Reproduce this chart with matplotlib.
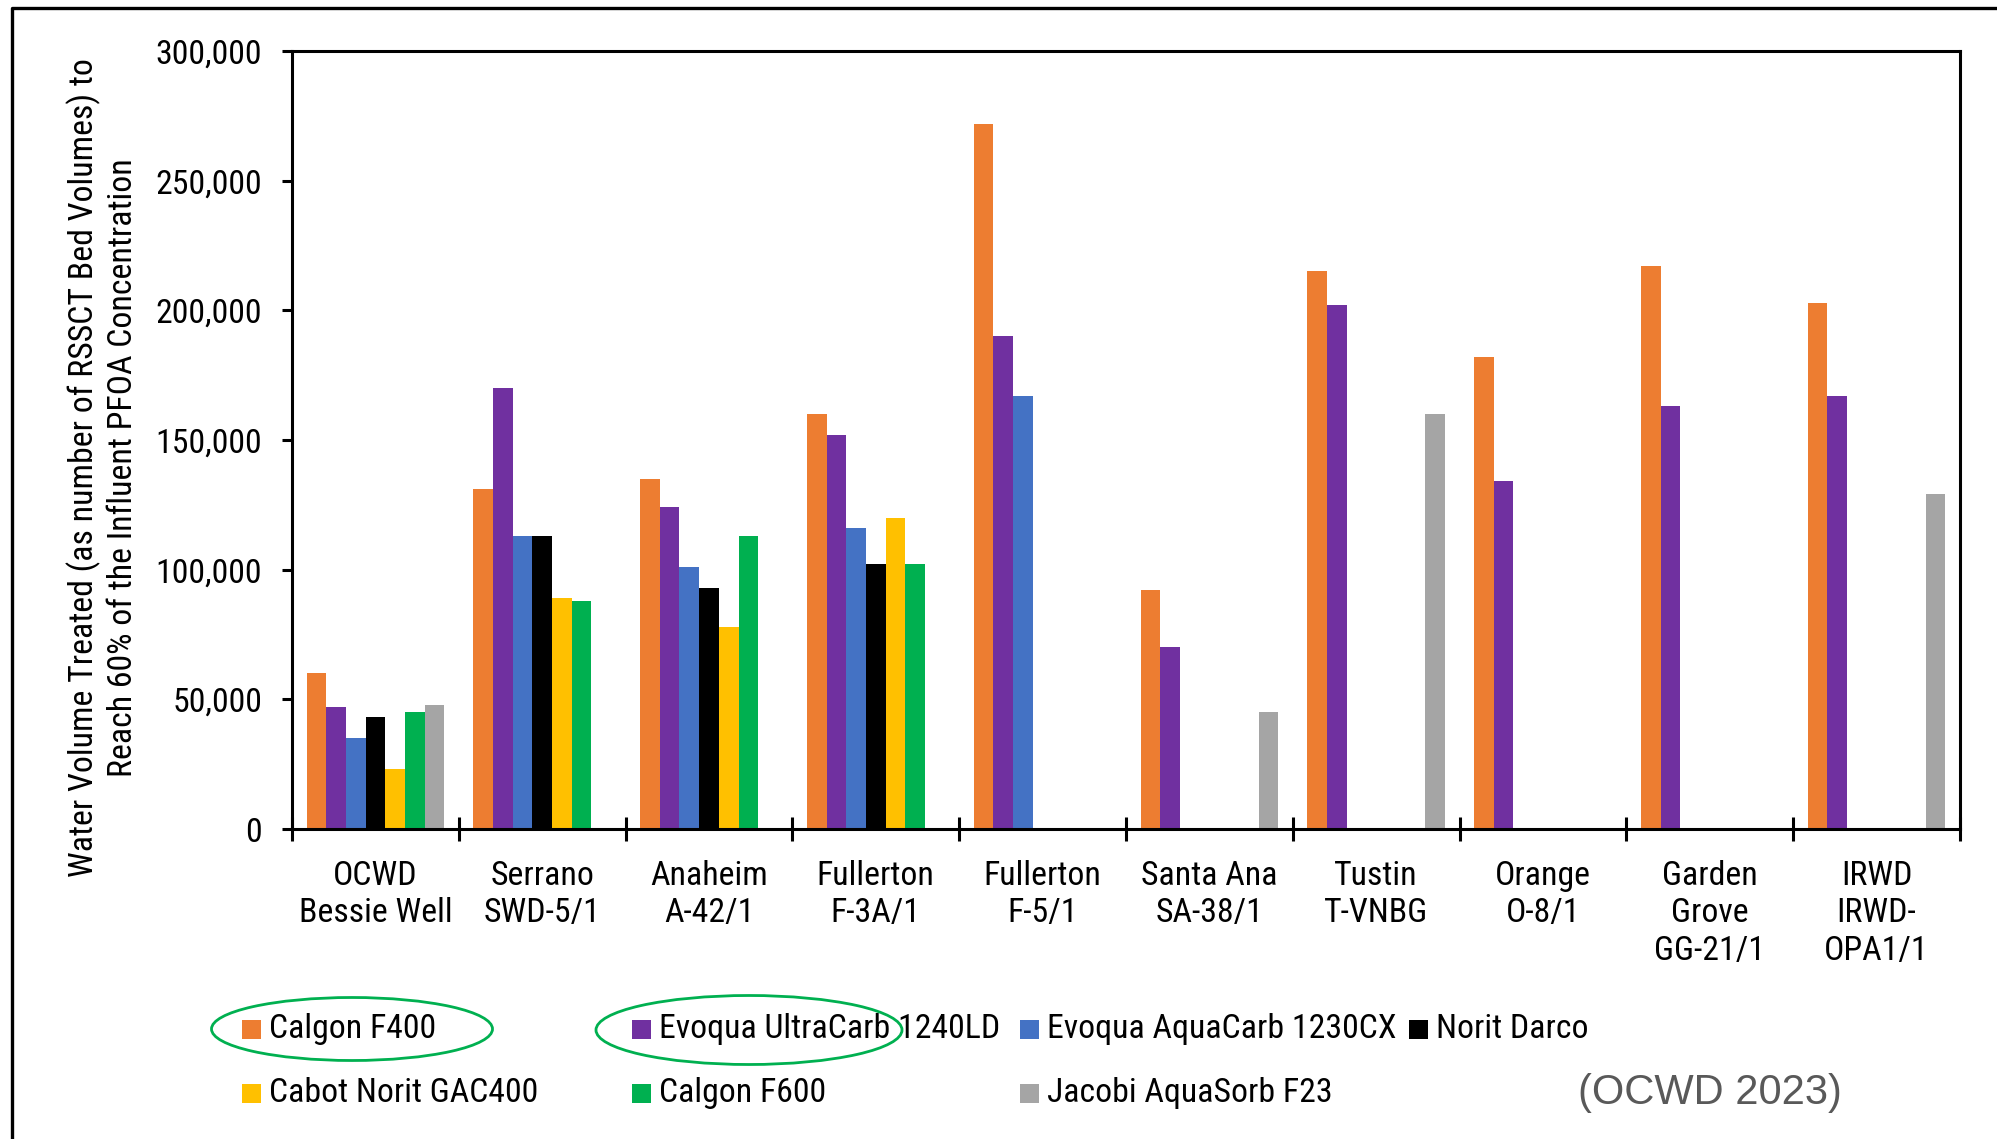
import numpy as np
import matplotlib
matplotlib.use("Agg")
import matplotlib.pyplot as plt
from matplotlib import font_manager
from matplotlib.patches import Ellipse, Rectangle
from matplotlib.lines import Line2D
from matplotlib.ticker import FuncFormatter, FixedLocator

# ---- data -------------------------------------------------------------
sites = ["OCWD\nBessie Well", "Serrano\nSWD-5/1", "Anaheim\nA-42/1",
         "Fullerton\nF-3A/1", "Fullerton\nF-5/1", "Santa Ana\nSA-38/1",
         "Tustin\nT-VNBG", "Orange\nO-8/1", "Garden\nGrove\nGG-21/1",
         "IRWD\nIRWD-\nOPA1/1"]

carbons = ["Calgon F400", "Evoqua UltraCarb 1240LD", "Evoqua AquaCarb 1230CX",
           "Norit Darco", "Cabot Norit GAC400", "Calgon F600",
           "Jacobi AquaSorb F23"]

nan = np.nan
calgon_f400      = [60000, 131000, 135000, 160000, 272000, 92000, 215000, 182000, 217000, 203000]
evoqua_ultracarb = [47000, 170000, 124000, 152000, 190000, 70000, 202000, 134000, 163000, 167000]
evoqua_aquacarb  = [35000, 113000, 101000, 116000, 167000, nan, nan, nan, nan, nan]
norit_darco      = [43000, 113000, 93000, 102000, nan, nan, nan, nan, nan, nan]
cabot_gac400     = [23000, 89000, 78000, 120000, nan, nan, nan, nan, nan, nan]
calgon_f600      = [45000, 88000, 113000, 102000, nan, nan, nan, nan, nan, nan]
jacobi_f23       = [48000, nan, nan, nan, nan, 45000, 160000, nan, nan, 129000]

y_ticks = [0, 50000, 100000, 150000, 200000, 250000, 300000]

series = [calgon_f400, evoqua_ultracarb, evoqua_aquacarb, norit_darco,
          cabot_gac400, calgon_f600, jacobi_f23]
colors = ["#ED7D31", "#7030A0", "#4472C4", "#000000", "#FFC000", "#00B050", "#A5A5A5"]

ylabel = ("Water Volume Treated (as number of RSSCT Bed Volumes) to\n"
          "Reach 60% of the Influent PFOA Concentration")
source = "(OCWD 2023)"


# ---- fonts ------------------------------------------------------------
def find_narrow():
    """Return (FontProperties kwargs, size) for a condensed sans face."""
    fonts = font_manager.fontManager.ttflist
    names = {f.name for f in fonts}
    for cand in ["Liberation Sans Narrow", "Arial Narrow", "Roboto Condensed",
                 "Open Sans Condensed", "DejaVu Sans Condensed",
                 "Noto Sans Condensed"]:
        if cand in names:
            return {"family": cand}, 24.3
    # condensed faces registered under a base family name
    for base in ["Noto Sans", "Roboto", "Open Sans", "DejaVu Sans"]:
        for f in fonts:
            if f.name == base and f.stretch in ("condensed", "semi-condensed") \
                    and f.style == "normal" and f.weight in (400, "normal", "regular"):
                return {"family": base, "stretch": f.stretch}, 24.3
    for f in fonts:
        if ("Condensed" in f.fname or "Narrow" in f.fname) and \
                "Bold" not in f.fname and "Italic" not in f.fname and \
                "Light" not in f.fname and "Mono" not in f.fname:
            return {"fname": f.fname}, 24.3
    return {"family": "Liberation Sans"}, 20.5


NARROW_KW, FS = find_narrow()
if "fname" in NARROW_KW:
    NARROW_FP = font_manager.FontProperties(fname=NARROW_KW["fname"], size=FS)
else:
    NARROW_FP = font_manager.FontProperties(size=FS, **NARROW_KW)


def nfp(size=FS):
    fp = NARROW_FP.copy()
    fp.set_size(size)
    return fp


REGULAR = "Liberation Sans"

# ---- figure -----------------------------------------------------------
W, H = 1997, 1139
fig = plt.figure(figsize=(W / 100, H / 100), dpi=100)


def fx(px):
    return px / W


def fy(py):
    return 1 - py / H


ax = fig.add_axes([fx(292), fy(829), fx(1960) - fx(292), fy(51) - fy(829)])

n = len(series)
bw = 0.118
x = np.arange(len(sites))
containers = []
for j, (vals, c) in enumerate(zip(series, colors)):
    bc = ax.bar(x + (j - (n - 1) / 2) * bw, vals, width=bw, color=c,
                linewidth=0, label=carbons[j])
    containers.append(bc)

ax.set_xlim(-0.5, len(sites) - 0.5)
ax.set_ylim(0, 300000)
ax.yaxis.set_major_locator(FixedLocator(y_ticks))
ax.yaxis.set_major_formatter(FuncFormatter(lambda v, p: f"{int(v):,}"))

ax.set_xticks(x)
ax.set_xticklabels(sites, fontproperties=nfp(), linespacing=1.22)
ax.set_xticks(np.arange(-0.5, len(sites)), minor=True)
ax.tick_params(axis="x", which="major", length=0, pad=22)
ax.tick_params(axis="x", which="minor", direction="inout", length=17, width=2.2)
ax.tick_params(axis="y", direction="out", length=7.5, width=2.2, pad=14)
for lab in ax.get_yticklabels():
    lab.set_fontproperties(nfp())

for sp in ax.spines.values():
    sp.set_linewidth(2.2)

fig.text(fx(103), fy(468), ylabel, rotation=90, ha="center", va="center",
         multialignment="center", fontproperties=nfp(), linespacing=1.22)

# ---- legend (two rows, evenly spaced columns) --------------------------
col_x = [242, 632, 1020, 1409]
row_y = [1029, 1093]
order = [(0, 0), (0, 1), (0, 2), (0, 3), (1, 0), (1, 1), (1, 2)]
sq = 19
for (r, cidx), bc, name in zip(order, containers, carbons):
    color = bc.patches[0].get_facecolor()
    fig.patches.append(Rectangle((fx(col_x[cidx]), fy(row_y[r] + sq / 2)),
                                 sq / W, sq / H, transform=fig.transFigure,
                                 facecolor=color, edgecolor="none"))
    fig.text(fx(col_x[cidx] + 27), fy(row_y[r]), name, ha="left", va="center",
             fontproperties=nfp())

# highlight rings
for cx, cy, w, h in [(352, 1029, 281, 63), (749, 1030, 306, 69)]:
    fig.patches.append(Ellipse((fx(cx), fy(cy)), w / W, h / H,
                               transform=fig.transFigure, fill=False,
                               edgecolor="#00B050", linewidth=2.0))

fig.text(fx(1710), fy(1093), source, ha="center", va="center", fontsize=30,
         family=REGULAR, color="#595959")

# outer frame (left and top edges)
fig.lines.append(Line2D([fx(12), fx(12), 1.0], [0.0, fy(8), fy(8)],
                        transform=fig.transFigure, color="black", linewidth=2.4))

fig.savefig("out.png", dpi=100)
